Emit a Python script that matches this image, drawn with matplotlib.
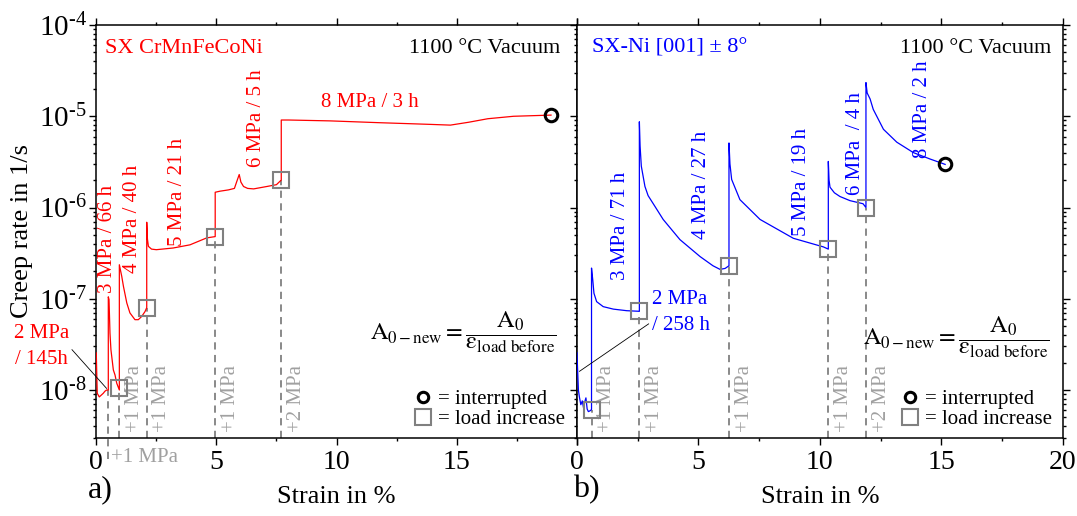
import matplotlib
matplotlib.use("Agg")
import matplotlib.pyplot as plt
import matplotlib.transforms as mtransforms
from matplotlib.lines import Line2D
from matplotlib.ticker import LogLocator, MultipleLocator, NullFormatter, FuncFormatter
import numpy as np

plt.rcParams['font.family'] = 'Liberation Serif'
plt.rcParams['mathtext.fontset'] = 'custom'
plt.rcParams['mathtext.rm'] = 'Liberation Serif'
plt.rcParams['mathtext.it'] = 'Liberation Serif:italic'
plt.rcParams['mathtext.bf'] = 'Liberation Serif:bold'

RED = '#ff0000'
BLUE = '#0000ff'
GREY = '#808080'
LGREY = '#a0a0a0'

# ---- a) SX CrMnFeCoNi, creep rate vs strain per load step ----
cantor_segments = [
    # 2 MPa / 145 h
    ([0.0, 0.02, 0.04, 0.125, 0.29, 0.36, 0.43, 0.5],
     [2.55e-8, 1.5e-8, 9.2e-9, 8.4e-9, 9.2e-9, 9.7e-9, 1.0e-8, 1.0e-8]),
    # 3 MPa / 66 h
    ([0.5, 0.53, 0.57, 0.61, 0.71, 0.78, 0.85, 0.96],
     [1.05e-7, 9.8e-8, 4.2e-8, 2.76e-8, 1.66e-8, 1.46e-8, 1.19e-8, 1.0e-8]),
    # 4 MPa / 40 h
    ([0.96, 1.06, 1.13, 1.27, 1.4, 1.61, 1.75, 1.89, 2.03, 2.1],
     [2.36e-7, 1.76e-7, 1.37e-7, 9.0e-8, 7.0e-8, 5.9e-8, 5.9e-8, 6.4e-8, 7.25e-8, 8.0e-8]),
    # 5 MPa / 21 h
    ([2.1, 2.13, 2.17, 2.3, 2.5, 3.2, 3.9, 4.6, 4.95],
     [6.9e-7, 4.5e-7, 3.75e-7, 3.5e-7, 3.45e-7, 3.6e-7, 3.9e-7, 4.65e-7, 4.8e-7]),
    # 6 MPa / 5 h
    ([4.95, 5.15, 5.5, 5.75, 5.84, 5.95, 6.02, 6.13, 6.3, 6.55, 7.1, 7.5, 7.7],
     [1.47e-6, 1.51e-6, 1.56e-6, 1.62e-6, 1.9e-6, 2.3e-6, 1.9e-6, 1.7e-6, 1.62e-6, 1.6e-6, 1.7e-6, 1.78e-6, 2.0e-6]),
    # 8 MPa / 3 h
    ([7.7, 8.0, 9.74, 11.8, 13.0, 13.9, 14.74, 15.5, 16.3, 17.37, 18.93],
     [9.1e-6, 9.1e-6, 8.9e-6, 8.5e-6, 8.3e-6, 8.15e-6, 8.0e-6, 8.6e-6, 9.4e-6, 1.0e-5, 1.03e-5]),
]
cantor_load_strain = [0.5, 0.96, 2.1, 4.95, 7.7]
cantor_load_rate = [1.0e-8, 1.05e-8, 8.0e-8, 4.8e-7, 2.0e-6]
cantor_load_step = ['+1 MPa', '+1 MPa', '+1 MPa', '+1 MPa', '+2 MPa']
cantor_end = (18.93, 1.03e-5)
cantor_step_labels = ['3 MPa / 66 h', '4 MPa / 40 h', '5 MPa / 21 h', '6 MPa / 5 h']
cantor_step_label_pos = [(0.47, 4.5e-7), (1.51, 7.6e-7), (3.38, 1.48e-6), (6.65, 9.5e-6)]

# ---- b) SX-Ni [001] ----
ni_segments = [
    # 2 MPa / 258 h
    ([0.0, 0.03, 0.06, 0.1, 0.16, 0.22, 0.27, 0.32, 0.37, 0.42, 0.47, 0.53, 0.6],
     [2.56e-8, 1.6e-8, 1.0e-8, 8.4e-9, 6.9e-9, 7.6e-9, 6.4e-9, 7.4e-9, 8.2e-9, 6.2e-9, 5.8e-9, 5.9e-9, 6.1e-9]),
    # 3 MPa / 71 h
    ([0.6, 0.65, 0.7, 0.81, 1.08, 1.5, 2.05, 2.52, 2.57],
     [2.17e-7, 1.62e-7, 1.15e-7, 9.3e-8, 8.2e-8, 7.7e-8, 7.4e-8, 7.3e-8, 7.3e-8]),
    # 4 MPa / 27 h
    ([2.57, 2.6, 2.65, 2.8, 2.93, 3.21, 3.55, 4.24, 5.07, 5.6, 5.89, 6.1, 6.26],
     [8.7e-6, 4.7e-6, 2.84e-6, 1.7e-6, 1.35e-6, 1.03e-6, 7.4e-7, 4.45e-7, 2.9e-7, 2.3e-7, 2.1e-7, 2.15e-7, 2.3e-7]),
    # 5 MPa / 19 h
    ([6.26, 6.3, 6.37, 6.71, 7.54, 8.91, 10.15, 10.35],
     [5.1e-6, 3.0e-6, 2.03e-6, 1.22e-6, 7.4e-7, 4.6e-7, 3.7e-7, 3.5e-7]),
    # 6 MPa / 4 h
    ([10.35, 10.38, 10.42, 10.6, 10.83, 11.24, 11.78, 11.9],
     [3.2e-6, 2.0e-6, 1.67e-6, 1.45e-6, 1.32e-6, 1.19e-6, 1.1e-6, 1.0e-6]),
    # 8 MPa / 2 h
    ([11.9, 11.95, 12.07, 12.2, 12.62, 13.17, 13.85, 14.54, 15.16],
     [2.34e-5, 1.8e-5, 1.55e-5, 1.19e-5, 7.2e-6, 5.2e-6, 4.0e-6, 3.4e-6, 2.97e-6]),
]
ni_load_strain = [0.6, 2.57, 6.26, 10.35, 11.9]
ni_load_rate = [6.1e-9, 7.3e-8, 2.3e-7, 3.5e-7, 1.0e-6]
ni_load_step = ['+1 MPa', '+1 MPa', '+1 MPa', '+1 MPa', '+2 MPa']
ni_end = (15.16, 2.97e-6)
ni_step_labels = ['3 MPa / 71 h', '4 MPa / 27 h', '5 MPa / 19 h', '6 MPa  / 4 h', '8 MPa / 2 h']
ni_step_label_pos = [(1.8, 6.3e-7), (5.13, 1.79e-6), (9.26, 1.9e-6), (11.47, 5.05e-6), (14.23, 1.19e-5)]

YMIN, YMAX = 3e-9, 1e-4
FORMULA = r'$\mathrm{A_{0-new}} = \dfrac{\mathrm{A_0}}{\mathrm{\varepsilon_{load\ before}}}$'


def decade_label(v, pos):
    # 10 with a hyphen-style exponent
    return '$\\mathregular{10^{\u2010%d}}$' % int(round(-np.log10(v)))


def style_axes(ax, show_ylabels):
    ax.set_xlim(0, 20)
    ax.set_yscale('log')
    ax.set_ylim(YMIN, YMAX)
    ax.xaxis.set_major_locator(MultipleLocator(5))
    ax.xaxis.set_minor_locator(MultipleLocator(2.5))
    ax.yaxis.set_major_locator(LogLocator(base=10, numticks=20))
    ax.yaxis.set_minor_locator(LogLocator(base=10, subs=range(2, 10), numticks=20))
    ax.yaxis.set_minor_formatter(NullFormatter())
    ax.yaxis.set_major_formatter(FuncFormatter(decade_label))
    ax.tick_params(which='both', direction='out', top=True, width=1.0)
    ax.tick_params(axis='x', labelsize=20, pad=4)
    ax.tick_params(axis='y', labelsize=21)
    ax.tick_params(which='major', length=5)
    ax.tick_params(which='minor', length=2.5)
    if show_ylabels:
        ax.tick_params(axis='y', which='both', left=True, right=False, pad=2)
    else:
        ax.tick_params(axis='y', which='both', left=True, right=True, labelleft=False)
    for sp in ax.spines.values():
        sp.set_linewidth(1.1)
    ax.set_xlabel('Strain in %', fontsize=19, labelpad=8)


def draw_panel(ax, segments, color, load_strain, load_rate, load_step, end):
    xs, ys = [], []
    for sx, sy in segments:
        xs += sx
        ys += sy
    ax.plot(xs, ys, color=color, lw=0.9, zorder=3)
    trans = mtransforms.blended_transform_factory(ax.transData, ax.transAxes)
    for x, r in zip(load_strain, load_rate):
        ax.vlines(x, YMIN, r, colors=GREY, linestyles=(0, (4, 3)), lw=1.3, zorder=2)
    for x, step in zip(load_strain, load_step):
        ax.text(x + 0.62, 0.015, step, transform=trans, rotation=90, ha='center', va='bottom',
                color=LGREY, fontsize=15)
    ax.plot(end[0], end[1], 'o', ms=9, mfc='none', mec='black', mew=2.2, zorder=5)


def add_key(ax, anchor):
    handles = [Line2D([], [], ls='none', marker='o', ms=7.5, mfc='none', mec='black', mew=2.2),
               Line2D([], [], ls='none', marker='s', ms=11, mfc='none', mec=GREY, mew=1.5)]
    ax.legend(handles, ['= interrupted', '= load increase'], loc='lower right',
              bbox_to_anchor=anchor, frameon=False, fontsize=15, handlelength=0.7,
              handletextpad=0.35, labelspacing=0.05, borderpad=0, borderaxespad=0)


fig = plt.figure(figsize=(10.77, 5.16), dpi=100)
ax_a = fig.add_axes([0.0894, 0.1517, 0.4461, 0.7998])
ax_b = fig.add_axes([0.5357, 0.1517, 0.451, 0.7998])

# panel a
style_axes(ax_a, True)
ax_a.set_xticks([0, 5, 10, 15, 20], ['0', '5', '10', '15', ''])
ax_a.set_ylabel('Creep rate in 1/s', fontsize=19, labelpad=4)
draw_panel(ax_a, cantor_segments, RED, cantor_load_strain[1:], cantor_load_rate[1:],
           cantor_load_step[1:], cantor_end)
# first step: line continues below the axis, label set horizontally
ax_a.vlines(cantor_load_strain[0], 1.75e-9, cantor_load_rate[0], colors=GREY,
            linestyles=(0, (4, 3)), lw=1.3, clip_on=False)
ax_a.text(cantor_load_strain[0] + 0.12, 1.8e-9, cantor_load_step[0], ha='left', va='center',
          color=LGREY, fontsize=15)
ax_a.plot(cantor_load_strain[1:], cantor_load_rate[1:], 's', ms=11, mfc='none', mec=GREY,
          mew=1.5, zorder=4)
for txt, (x, y) in zip(cantor_step_labels, cantor_step_label_pos):
    ax_a.text(x, y, txt, rotation=90, ha='center', va='center', color=RED, fontsize=15)
ax_a.text(11.4, 1.41e-5, '8 MPa / 3 h', ha='center', va='center', color=RED, fontsize=15)
ax_a.annotate('2 MPa\n/ 145h', xy=(0.43, 1.04e-8), xytext=(-2.28, 3.0e-8), ha='center',
              va='center', color=RED, fontsize=15, linespacing=1.5, annotation_clip=False,
              arrowprops=dict(arrowstyle='-', color='black', lw=0.6, shrinkA=0, shrinkB=0,
                              relpos=(1.0, 0.5)))
ax_a.text(0.018, 0.944, 'SX CrMnFeCoNi', transform=ax_a.transAxes, ha='left', va='center',
          color=RED, fontsize=16)
ax_a.text(0.965, 0.944, '1100 °C Vacuum', transform=ax_a.transAxes, ha='right', va='center',
          fontsize=16)
ax_a.text(0.958, 0.254, FORMULA, transform=ax_a.transAxes, ha='right', va='center',
          fontsize=17.5, math_fontfamily='stix')
add_key(ax_a, (0.975, 0.02))

# panel b
style_axes(ax_b, False)
draw_panel(ax_b, ni_segments, BLUE, ni_load_strain, ni_load_rate, ni_load_step, ni_end)
ax_b.plot(ni_load_strain, ni_load_rate, 's', ms=11, mfc='none', mec=GREY, mew=1.5, zorder=4)
for txt, (x, y) in zip(ni_step_labels, ni_step_label_pos):
    ax_b.text(x, y, txt, rotation=90, ha='center', va='center', color=BLUE, fontsize=15)
ax_b.annotate('2 MPa\n/ 258 h', xy=(0.1, 1.6e-8), xytext=(3.07, 7.0e-8), ha='left',
              va='center', color=BLUE, fontsize=15, linespacing=1.5,
              arrowprops=dict(arrowstyle='-', color='black', lw=0.6, shrinkA=0, shrinkB=0,
                              relpos=(0.0, 0.3)))
ax_b.text(0.031, 0.944, 'SX-Ni [001] ± 8°', transform=ax_b.transAxes, ha='left', va='center',
          color=BLUE, fontsize=16)
ax_b.text(0.977, 0.944, '1100 °C Vacuum', transform=ax_b.transAxes, ha='right', va='center',
          fontsize=16)
ax_b.text(0.974, 0.242, FORMULA, transform=ax_b.transAxes, ha='right', va='center',
          fontsize=17.5, math_fontfamily='stix')
add_key(ax_b, (0.977, 0.02))

fig.text(100 / 1077, 1 - 490 / 516, 'a)', ha='center', va='center', fontsize=23)
fig.text(586 / 1077, 1 - 490 / 516, 'b)', ha='center', va='center', fontsize=23)

fig.savefig('out.png', dpi=100)
plt.close(fig)
